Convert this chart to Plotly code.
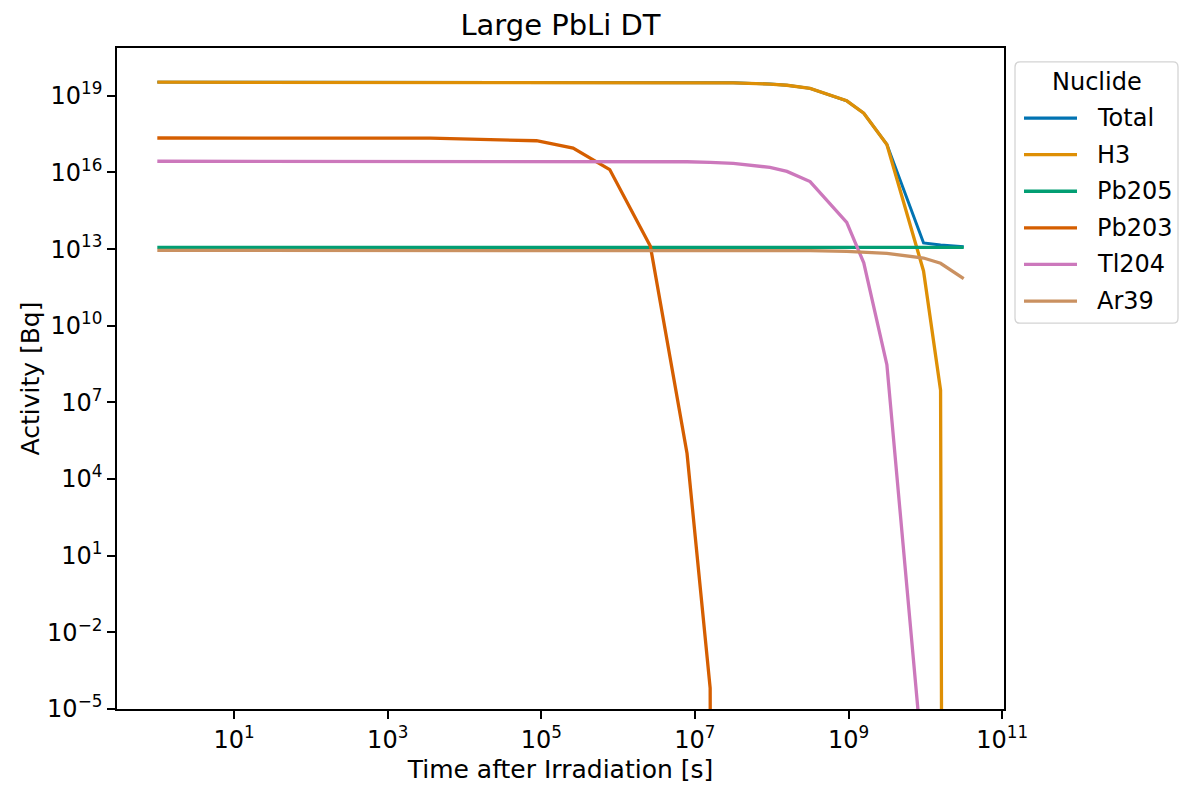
import plotly.graph_objects as go

# Decay times after irradiation [s]: 1 s, 1 h, 1 d, 3 d, 9 d, 1 mo, 3 mo, 6 mo,
# 1 y, 3 y, 5 y, 10 y, 30 y, 50 y, 100 y, 300 y, 500 y, 1000 y
times_s = [1, 3600, 86400, 259200, 777600, 2629800, 7889400, 15778800,
           31557600, 94672800, 157788000, 315576000, 946728000, 1577880000,
           3155760000, 9467280000, 15778800000, 31557600000]

# Activities [Bq]; 1e-300 marks a fully decayed (zero) inventory
total = [3.455e19, 3.455e19, 3.450e19, 3.442e19, 3.434e19, 3.423e19, 3.383e19,
         3.333e19, 3.242e19, 2.902e19, 2.601e19, 1.960e19, 6.4e18, 2.1e18,
         1.25e17, 1.76e13, 1.45e13, 1.24e13]
h3 = [3.43e19, 3.43e19, 3.43e19, 3.43e19, 3.43e19, 3.42e19, 3.38e19, 3.33e19,
      3.24e19, 2.9e19, 2.6e19, 1.96e19, 6.4e18, 2.1e18, 1.25e17, 1.4e12,
      3.0e7, 1e-300]
pb205 = [1.17e13, 1.17e13, 1.17e13, 1.17e13, 1.17e13, 1.17e13, 1.17e13,
         1.17e13, 1.17e13, 1.17e13, 1.17e13, 1.17e13, 1.17e13, 1.17e13,
         1.17e13, 1.17e13, 1.17e13, 1.17e13]
pb203 = [2.24e17, 2.22e17, 1.75e17, 9.0e16, 1.3e16, 1.3e13, 1.0e5, 6.6e-5,
         1e-300, 1e-300, 1e-300, 1e-300, 1e-300, 1e-300, 1e-300, 1e-300,
         1e-300, 1e-300]
tl204 = [2.75e16, 2.75e16, 2.74e16, 2.74e16, 2.73e16, 2.71e16, 2.63e16,
         2.5e16, 2.29e16, 1.58e16, 1.1e16, 4.4e15, 1.12e14, 2.9e12, 3.0e8,
         3.5e-8, 4e-24, 1e-63]
ar39 = [8.9e12, 8.9e12, 8.9e12, 8.9e12, 8.9e12, 8.9e12, 8.9e12, 8.9e12,
        8.9e12, 8.87e12, 8.83e12, 8.67e12, 8.23e12, 7.81e12, 6.86e12,
        4.5e12, 2.8e12, 7.0e11]

nuclides = ["Total", "H3", "Pb205", "Pb203", "Tl204", "Ar39"]
series = [total, h3, pb205, pb203, tl204, ar39]
colors = ["#0173b2", "#de8f05", "#029e73", "#d55e00", "#cc78bc", "#ca9161"]
widths = [2.9, 3.3, 3.3, 3.3, 3.3, 3.3]

x_tick_exp = [1, 3, 5, 7, 9, 11]
y_tick_exp = [-5, -2, 1, 4, 7, 10, 13, 16, 19]

FONT = "DejaVu Sans"
W, H = 1184, 791
L, R, T, B = 117, 1004, 48, 711


def sup_label(e):
    s = str(e).replace("-", "\u2212")
    return f"10<sup>{s}</sup>"


fig = go.Figure()
for name, vals, col, lw in zip(nuclides, series, colors, widths):
    fig.add_trace(go.Scatter(
        x=times_s, y=vals, mode="lines", name=name,
        line=dict(color=col, width=lw), showlegend=False,
    ))


def px_x(p):
    return (p - L) / (R - L)


def px_y(p):
    return (B - p) / (B - T)


# Legend panel drawn at the right of the axes
box_l, box_r, box_t, box_b = 1015, 1178, 62, 324
rad = 5
path = (
    f"M {px_x(box_l + rad)} {px_y(box_t)} "
    f"L {px_x(box_r - rad)} {px_y(box_t)} "
    f"Q {px_x(box_r)} {px_y(box_t)} {px_x(box_r)} {px_y(box_t + rad)} "
    f"L {px_x(box_r)} {px_y(box_b - rad)} "
    f"Q {px_x(box_r)} {px_y(box_b)} {px_x(box_r - rad)} {px_y(box_b)} "
    f"L {px_x(box_l + rad)} {px_y(box_b)} "
    f"Q {px_x(box_l)} {px_y(box_b)} {px_x(box_l)} {px_y(box_b - rad)} "
    f"L {px_x(box_l)} {px_y(box_t + rad)} "
    f"Q {px_x(box_l)} {px_y(box_t)} {px_x(box_l + rad)} {px_y(box_t)} Z"
)
shapes = [dict(type="path", path=path, xref="paper", yref="paper",
               line=dict(color="#d4d4d4", width=1.3), fillcolor="white",
               layer="above")]
annotations = [dict(text="Nuclide", x=px_x((box_l + box_r) / 2), y=px_y(82),
                    xref="paper", yref="paper", showarrow=False,
                    xanchor="center", yanchor="middle",
                    font=dict(family=FONT, size=24, color="black"))]
row0, row_step = 118.3, 36.7
for i, (name, col) in enumerate(zip(nuclides, colors)):
    yy = row0 + i * row_step
    shapes.append(dict(type="line", xref="paper", yref="paper",
                       x0=px_x(1024), x1=px_x(1077), y0=px_y(yy), y1=px_y(yy),
                       line=dict(color=col, width=3.3), layer="above"))
    annotations.append(dict(text=name, x=px_x(1095), y=px_y(yy),
                            xref="paper", yref="paper", showarrow=False,
                            xanchor="left", yanchor="middle",
                            font=dict(family=FONT, size=24, color="black")))

axis_common = dict(
    type="log", showgrid=False, zeroline=False, showline=True, mirror=True,
    linecolor="black", linewidth=1.6, ticks="outside", ticklen=8,
    tickwidth=1.6, tickcolor="black",
    tickfont=dict(family=FONT, size=24, color="black"),
)

fig.update_layout(
    width=W, height=H,
    margin=dict(l=L, r=W - R, t=T, b=H - B, pad=0),
    paper_bgcolor="white", plot_bgcolor="white",
    font=dict(family=FONT, color="black"),
    title=dict(text="Large PbLi DT", x=(L + R) / 2 / W, xanchor="center",
               y=1 - 25 / H, yanchor="middle",
               font=dict(family=FONT, size=29, color="black")),
    xaxis=dict(
        **axis_common,
        range=[-0.525, 11.024],
        tickvals=[10 ** e for e in x_tick_exp],
        ticktext=[sup_label(e) for e in x_tick_exp],
        title=dict(text="Time after Irradiation [s]", standoff=8,
                   font=dict(family=FONT, size=25, color="black")),
    ),
    yaxis=dict(
        **axis_common,
        range=[-5, 20.873],
        tickvals=[10.0 ** e for e in y_tick_exp],
        ticktext=[sup_label(e) for e in y_tick_exp],
        title=dict(text="Activity [Bq]", standoff=0,
                   font=dict(family=FONT, size=25, color="black")),
    ),
    shapes=shapes,
    annotations=annotations,
)

fig.write_html("out.html")
